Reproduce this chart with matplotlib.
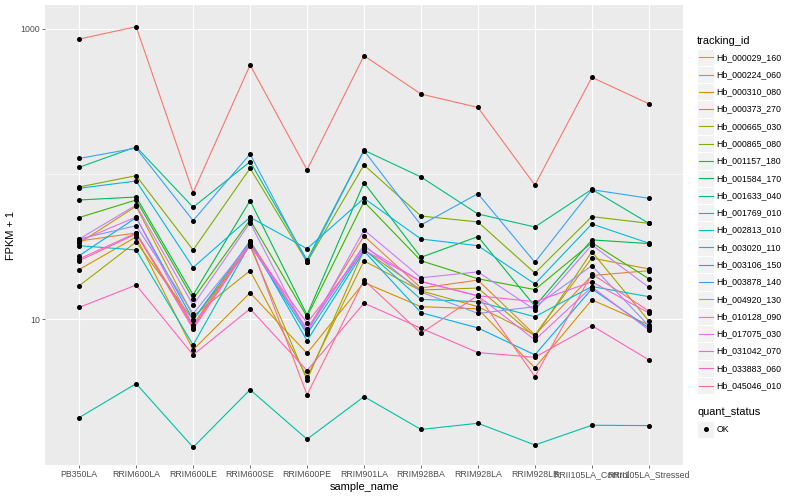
import matplotlib
matplotlib.use("Agg")
import matplotlib.pyplot as plt
from matplotlib.patches import Rectangle
from matplotlib.lines import Line2D
from matplotlib.ticker import FixedLocator, NullFormatter

plt.rcParams['font.family'] = ['Liberation Sans', 'DejaVu Sans']

samples = ["PB350LA", "RRIM600LA", "RRIM600LE", "RRIM600SE", "RRIM600PE",
           "RRIM901LA", "RRIM928BA", "RRIM928LA", "RRIM928LB",
           "RRII105LA_Control", "RRII105LA_Stressed"]

tracking_ids = ["Hb_000029_160", "Hb_000224_060", "Hb_000310_080", "Hb_000373_270",
                "Hb_000665_030", "Hb_000865_080", "Hb_001157_180", "Hb_001584_170",
                "Hb_001633_040", "Hb_001769_010", "Hb_002813_010", "Hb_003020_110",
                "Hb_003106_150", "Hb_003878_140", "Hb_004920_130", "Hb_010128_090",
                "Hb_017075_030", "Hb_031042_070", "Hb_033883_060", "Hb_045046_010"]

colors = ["#F8766D", "#EA8331", "#D89000", "#C09B00", "#A3A500", "#7CAE00", "#39B600",
          "#00BB4E", "#00BF7D", "#00C1A3", "#00BFC4", "#00BAE0", "#00B0F6", "#35A2FF",
          "#9590FF", "#C77CFF", "#E76BF3", "#FA62DB", "#FF62BC", "#FF6C91"]

# FPKM + 1 per sample (order of `samples`)
Hb_000029_160 = [852, 1036, 74.5, 564, 107, 654, 356, 288, 84, 464, 305]
Hb_000224_060 = [34.6, 39.3, 9.14, 34.6, 8.44, 37.5, 16.4, 18.6, 7.8, 20.0, 21.6]
Hb_000310_080 = [22.0, 36.9, 6.15, 15.2, 5.83, 17.9, 12.2, 11.8, 4.62, 13.6, 9.14]
Hb_000373_270 = [33.5, 60.0, 10.5, 21.6, 4.0, 25.2, 15.7, 12.2, 7.8, 26.4, 22.2]
Hb_000665_030 = [17.0, 34.1, 9.9, 32.0, 3.82, 30.0, 15.9, 16.4, 7.59, 29.2, 9.73]
Hb_000865_080 = [81.5, 97.5, 30.0, 109.6, 24.8, 115.5, 51.4, 46.8, 20.8, 50.9, 45.8]
Hb_001157_180 = [50.2, 66.3, 13.8, 48.3, 10.4, 64.5, 25.3, 19.0, 16.0, 33.7, 19.0]
Hb_001584_170 = [66.3, 69.5, 14.7, 65.6, 10.7, 87.3, 26.7, 37.1, 12.3, 35.2, 33.2]
Hb_001633_040 = [111.4, 154, 59.1, 121.7, 25.6, 146, 95.5, 53.1, 43.2, 78.5, 45.8]
Hb_001769_010 = [2.10, 3.6, 1.31, 3.27, 1.49, 2.93, 1.74, 1.92, 1.36, 1.86, 1.85]
Hb_002813_010 = [32.1, 30.0, 6.65, 33.0, 7.92, 30.5, 13.7, 13.2, 10.4, 16.8, 14.3]
Hb_003020_110 = [79.8, 89.6, 22.7, 50.4, 30.6, 68.1, 35.7, 32.1, 17.5, 45.3, 33.4]
Hb_003106_150 = [27.4, 50.1, 9.9, 34.6, 7.12, 29.5, 11.1, 8.71, 5.68, 16.2, 8.71]
Hb_003878_140 = [128.1, 151, 47.8, 137.5, 24.7, 145, 44.6, 73.3, 24.7, 78.1, 68.1]
Hb_004920_130 = [35.7, 44.1, 10.9, 33.5, 8.31, 32.5, 15.4, 10.96, 12.2, 23.4, 9.0]
Hb_010128_090 = [35.7, 61.2, 12.5, 46.3, 8.05, 41.2, 19.3, 21.2, 11.6, 32.5, 16.6]
Hb_017075_030 = [34.6, 50.6, 9.0, 32.5, 8.57, 31.5, 18.2, 14.5, 7.2, 16.7, 8.44]
Hb_031042_070 = [26.0, 39.3, 8.57, 32.5, 9.43, 30.0, 18.2, 14.5, 13.2, 18.1, 11.05]
Hb_033883_060 = [12.06, 17.2, 5.68, 11.8, 4.43, 12.9, 8.67, 5.89, 5.47, 9.03, 5.25]
Hb_045046_010 = [25.3, 38.7, 8.85, 33.5, 3.01, 18.6, 8.0, 14.6, 4.03, 20.5, 11.4]

series = [Hb_000029_160, Hb_000224_060, Hb_000310_080, Hb_000373_270, Hb_000665_030,
          Hb_000865_080, Hb_001157_180, Hb_001584_170, Hb_001633_040, Hb_001769_010,
          Hb_002813_010, Hb_003020_110, Hb_003106_150, Hb_003878_140, Hb_004920_130,
          Hb_010128_090, Hb_017075_030, Hb_031042_070, Hb_033883_060, Hb_045046_010]

quant_status = ["OK"]

W, H = 800, 500
fig = plt.figure(figsize=(W / 100, H / 100), dpi=100)
fig.patch.set_facecolor("white")

px_l, px_r, px_t, px_b = 45, 683, 5, 465
ax = fig.add_axes([px_l / W, 1 - px_b / H, (px_r - px_l) / W, (px_b - px_t) / H])
ax.set_facecolor("#EBEBEB")
for s in ax.spines.values():
    s.set_visible(False)

xs = list(range(len(samples)))
for vals, col in zip(series, colors):
    ax.plot(xs, vals, color=col, lw=0.8, zorder=3, solid_capstyle="butt")
for vals in series:
    ax.plot(xs, vals, ls="none", marker="o", ms=2.6, color="black", zorder=4)

ax.set_yscale("log")
ax.set_ylim(0.99, 1462)
ax.set_xlim(-0.6, len(samples) - 1 + 0.6)

ax.yaxis.set_major_locator(FixedLocator([10, 1000]))
ax.set_yticklabels(["10", "1000"])
ax.yaxis.set_minor_locator(FixedLocator([100]))
ax.yaxis.set_minor_formatter(NullFormatter())
ax.set_xticks(xs)
ax.set_xticklabels(samples)

ax.grid(True, which="major", color="white", lw=0.8, zorder=0)
ax.grid(True, which="minor", axis="y", color="white", lw=0.4, zorder=0)
ax.set_axisbelow(True)

ax.tick_params(axis="both", which="major", length=2, width=0.5, color="#333333",
               labelsize=6.3, labelcolor="#4D4D4D", pad=1.6)
ax.tick_params(axis="y", which="minor", length=0)

ax.set_xlabel("sample_name", fontsize=7.9, color="black", labelpad=2)
ax.set_ylabel("FPKM + 1", fontsize=7.9, color="black", labelpad=3)

# Legend drawn in figure pixel coordinates
def fx(x):
    return x / W

def fy(y):
    return 1 - y / H

key_x, key_w, key_h = 697, 17.28, 17.28
fig.text(fx(697), fy(40.7), "tracking_id", fontsize=7.9, ha="left", va="center")
y0 = 57.3
for i, (tid, col) in enumerate(zip(tracking_ids, colors)):
    yc = y0 + i * key_h
    fig.patches.append(Rectangle((fx(key_x), fy(yc + key_h / 2)), key_w / W, key_h / H,
                                 transform=fig.transFigure, facecolor="#F2F2F2",
                                 edgecolor="white", lw=0.7))
    fig.lines.append(Line2D([fx(key_x + 1.7), fx(key_x + key_w - 1.7)], [fy(yc), fy(yc)],
                            transform=fig.transFigure, color=col, lw=0.8))
    fig.text(fx(716.7), fy(yc), tid, fontsize=6.3, ha="left", va="center")

fig.text(fx(697), fy(412), "quant_status", fontsize=7.9, ha="left", va="center")
for j, qs in enumerate(quant_status):
    yc = 429.3 + j * key_h
    fig.patches.append(Rectangle((fx(key_x), fy(yc + key_h / 2)), key_w / W, key_h / H,
                                 transform=fig.transFigure, facecolor="#F2F2F2",
                                 edgecolor="white", lw=0.7))
    fig.lines.append(Line2D([fx(key_x + key_w / 2)], [fy(yc)], transform=fig.transFigure,
                            ls="none", marker="o", ms=2.6, color="black"))
    fig.text(fx(716.7), fy(yc), qs, fontsize=6.3, ha="left", va="center")

fig.savefig("out.png", dpi=100, facecolor="white")
